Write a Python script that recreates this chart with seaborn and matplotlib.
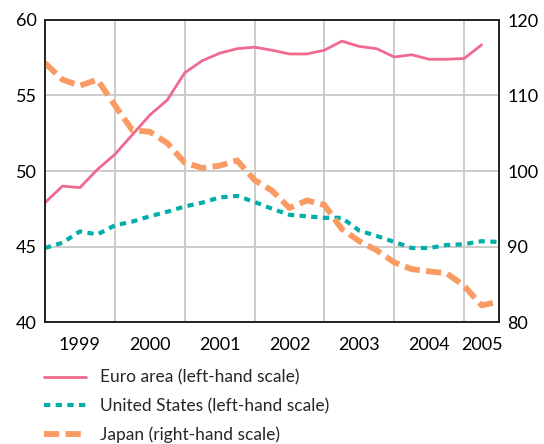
import numpy as np
import pandas as pd
import seaborn as sns
import matplotlib.pyplot as plt

sns.set_style('white')
plt.rcParams['font.family'] = ['Lato', 'DejaVu Sans']

# quarterly observations, starting 1999 Q1
euro_area = [47.9, 49.0, 48.9, 50.1, 51.1, 52.4, 53.7, 54.7, 56.5, 57.3,
             57.8, 58.1, 58.2, 58.0, 57.75, 57.75, 58.0, 58.6, 58.25, 58.1,
             57.55, 57.7, 57.4, 57.4, 57.45, 58.35]
united_states = [44.9, 45.25, 46.0, 45.8, 46.4, 46.65, 47.0, 47.3, 47.65, 47.9,
                 48.25, 48.35, 47.95, 47.5, 47.1, 47.0, 46.9, 46.9, 46.05, 45.7,
                 45.3, 44.9, 44.9, 45.1, 45.15, 45.35, 45.3]
japan = [114.3, 112.1, 111.3, 112.1, 108.7, 105.4, 105.2, 103.7, 101.1, 100.4,
         100.7, 101.4, 98.8, 97.4, 95.1, 96.1, 95.5, 92.3, 90.7, 89.5,
         87.9, 87.0, 86.7, 86.45, 84.8, 82.2, 82.7]
year_ticks = [1999.5, 2000.5, 2001.5, 2002.5, 2003.5, 2004.5, 2005.25]
year_labels = ['1999', '2000', '2001', '2002', '2003', '2004', '2005']

PINK = '#EF6A8E'
TEAL = '#00ADA9'
ORANGE = '#F99B62'

df_left = pd.DataFrame({
    't': 1999 + np.arange(len(euro_area)) * 0.25,
    'v': euro_area,
})
df_us = pd.DataFrame({
    't': 1999 + np.arange(len(united_states)) * 0.25,
    'v': united_states,
})
df_jp = pd.DataFrame({
    't': 1999 + np.arange(len(japan)) * 0.25,
    'v': japan,
})

fig = plt.figure(figsize=(5.44, 4.44), dpi=100)
ax = fig.add_axes([45 / 544, 1 - 322 / 444, 454 / 544, 302 / 444])
ax2 = ax.twinx()

sns.lineplot(data=df_left, x='t', y='v', ax=ax, color=PINK, lw=2.0,
             label='Euro area (left-hand scale)', legend=False)
sns.lineplot(data=df_us, x='t', y='v', ax=ax, color=TEAL, lw=3.0,
             dashes=False, label='United States (left-hand scale)', legend=False)
ax.lines[-1].set_dashes((1.5, 1.3))
sns.lineplot(data=df_jp, x='t', y='v', ax=ax2, color=ORANGE, lw=4.2,
             label='Japan (right-hand scale)', legend=False)
ax2.lines[-1].set_dashes((2.6, 1.1))

ax.set_xlim(1999, 2005.5)
ax.set_ylim(40, 60)
ax2.set_ylim(80, 120)
ax.set_yticks([40, 45, 50, 55, 60])
ax2.set_yticks([80, 90, 100, 110, 120])
ax.set_xticks(year_ticks)
ax.set_xticklabels(year_labels)
ax.set_xticks([2000, 2001, 2002, 2003, 2004, 2005], minor=True)
ax.grid(False)
ax.grid(True, which='minor', axis='x', color='#C8C8C8', lw=1.3)
ax.grid(True, which='major', axis='y', color='#C8C8C8', lw=1.3)
ax.set_xlabel('')
ax.set_ylabel('')
ax2.set_ylabel('')
ax.set_axisbelow(True)

for a in (ax, ax2):
    a.tick_params(which='both', length=0, labelsize=13, colors='black')
    for s in a.spines.values():
        s.set_color('#222222')
        s.set_linewidth(1.2)
ax.tick_params(axis='x', pad=11)
ax.tick_params(axis='y', pad=6)
ax2.tick_params(axis='y', pad=6)
ax2.grid(False)

handles = ax.get_lines()[:2] + ax2.get_lines()[:1]
labels = ['Euro area (left-hand scale)', 'United States (left-hand scale)',
          'Japan (right-hand scale)']
fig.legend(handles, labels, loc='upper left', bbox_to_anchor=(0.068, 0.183),
           frameon=False, fontsize=12.5, handlelength=2.4, labelspacing=0.7,
           handletextpad=0.85, borderaxespad=0)

fig.savefig('out.png', dpi=100)
